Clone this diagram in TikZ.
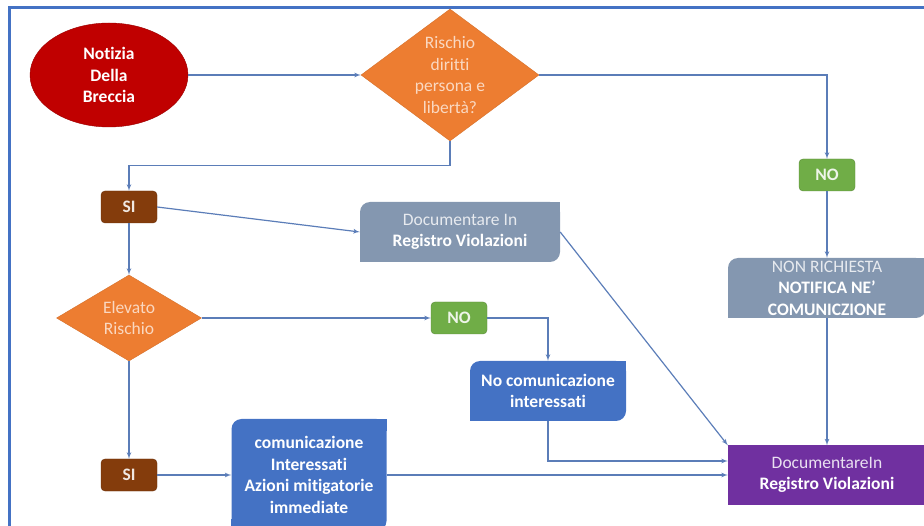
\documentclass[tikz,border=0pt]{standalone}
\usepackage{fontspec}
\setmainfont{Carlito}[Ligatures=NoCommon]
\usepackage{tikz}
\usetikzlibrary{shapes,arrows,positioning,calc,backgrounds}
\definecolor{linea}{HTML}{5B7DB8}
\definecolor{cornice}{HTML}{4472C4}
\definecolor{rosso}{HTML}{C00000}
\definecolor{arancio}{HTML}{ED7D31}
\definecolor{marrone}{HTML}{843C0C}
\definecolor{verde}{HTML}{70AD47}
\definecolor{grigioblu}{HTML}{8497B0}
\definecolor{blu}{HTML}{4472C4}
\definecolor{viola}{HTML}{7030A0}
\newcommand\testo{\fontsize{17.5}{21.5}\selectfont}
\tikzset{
start/.style = {draw=rosso!80!black, fill=rosso, ellipse, minimum width=158pt, minimum height=104pt, inner sep=0pt, align=center, text=white, font=\testo\bfseries},
decision/.style = {draw=arancio!90!black, fill=arancio, diamond, inner sep=0pt, align=center, text=arancio!30, font=\testo},
answer/.style = {draw=#1!80!black, fill=#1, rounded corners=4pt, minimum width=56pt, minimum height=32pt, text=#1!12, font=\testo\bfseries},
block/.style = {fill=#1, rounded corners=10pt, inner sep=0pt, align=center, text=white, font=\testo\bfseries},
line/.style = {->, draw=linea, line width=1.2pt}
}

\begin{document}
\begin{tikzpicture}[x=1pt, y=-1pt, >=latex']
\useasboundingbox (0,0) rectangle (924,526);
\draw[cornice, line width=3pt] (9.5,526) -- (9.5,7.5) -- (924,7.5);

\node[start] (notizia) at (109,75) {Notizia\\Della\\Breccia};
\node[decision, right of=notizia, node distance=341pt, minimum width=178pt, minimum height=132pt, shape aspect=1.35] (rischio) {Rischio\\diritti\\persona e\\libertà?};
\node[answer=marrone] (si1) at (129,207) {SI};
\node[decision, below of=si1, node distance=111pt, minimum width=145pt, minimum height=86pt, shape aspect=1.69] (elev) {Elevato\\Rischio};
\node[answer=marrone, below of=elev, node distance=157pt] (si2) {SI};
\node[block=blu, right of=si2, node distance=180pt, minimum width=155pt, minimum height=112pt] (comm) {comunicazione\\Interessati\\Azioni mitigatorie\\immediate};
\node[block=viola, sharp corners, right of=comm, node distance=518pt, minimum width=198pt, minimum height=59pt] (doc2) {{\mdseries\color{viola!15}DocumentareIn}\\Registro Violazioni};
\node[block=grigioblu, above of=doc2, node distance=187pt, minimum width=198pt, minimum height=60pt] (nonrich) {{\mdseries\color{grigioblu!20}NON RICHIESTA}\\NOTIFICA NE’\\COMUNICZIONE};
\node[answer=verde, above of=nonrich, node distance=113pt] (no1) {NO};
\node[answer=verde, right of=elev, node distance=330pt] (no2) {NO};
\node[block=blu, minimum width=156pt, minimum height=60pt] (nocom) at (548,391) {No comunicazione\\interessati};
\node[block=grigioblu, minimum width=200pt, minimum height=60pt] (doc1) at (460,232) {{\mdseries\color{grigioblu!20}Documentare In}\\Registro Violazioni};

% square corners of the boxes
\begin{scope}[on background layer]
\foreach \n/\col in {doc1/grigioblu, nocom/blu, comm/blu, nonrich/grigioblu}{
  \fill[\col] (\n.north east) rectangle ++(-12,12);
  \fill[\col] (\n.south west) rectangle ++(12,-12);
}
\end{scope}

\draw[line] (notizia.east) -- (rischio.west);
\draw[line] (rischio.south) -- ++(0,24) -| (si1.north);
\draw[line] (rischio.east) -| (no1.north);
\draw[line] (no1) -- (nonrich);
\draw[line] (nonrich) -- (doc2);
\draw[line] (si1.east) -- (doc1.west);
\draw[line] (doc1.east) -- (doc2.north west);
\draw[line] (si1) -- (elev);
\draw[line] (elev.east) -- (no2.west);
\draw[line] (no2.east) -| (nocom.north);
\draw[line] (nocom.south) |- ([yshift=14pt]doc2.west);
\draw[line] (elev) -- (si2);
\draw[line] (si2) -- (comm);
\draw[line] (comm.east) -- (comm.east -| doc2.west);
\end{tikzpicture}
\end{document}
